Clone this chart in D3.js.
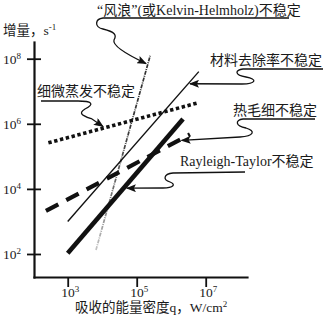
<!DOCTYPE html>
<html>
<head>
<meta charset="utf-8">
<script src="https://cdn.jsdelivr.net/npm/d3@7"></script>
<style>
  body { margin: 0; background: #fff; }
  svg { display: block; }
  text { font-family: "Liberation Serif", "Noto Sans CJK SC", serif; fill: #1a1a1a; }
</style>
</head>
<body>
<svg id="chart" width="323" height="320"></svg>
<script>
// Growth rate lines, each point is [absorbed energy density q (W/cm2), growth rate (s^-1)].
const kelvinHelmholz = [[6.6e3, 132], [2.45e5, 1.23e8]];
const materialRemoval = [[1e3, 1e3], [6.3e6, 4e7]];
const fineEvaporation = [[275, 2.6e5], [5.5e6, 4.3e6]];
const thermocapillary = [[234, 2.1e3], [3.5e6, 4.7e5]];
const rayleighTaylor = [[1e3, 105], [2.2e6, 1.4e6]];

// Axis ticks (shown as 10 with a superscript exponent).
const xTicks = [1e3, 1e5, 1e7];
const xTickExp = ['3', '5', '7'];
const yTicks = [1e2, 1e4, 1e6, 1e8];
const yTickExp = ['2', '4', '6', '8'];

// Where each annotation arrow points, in data units.
const arrowTargets = {
  kelvin: [1.86e5, 7.1e7],
  material: [3.5e6, 1.7e7],
  evaporation: [1.05e4, 8.3e5],
  thermo: [2.0e6, 3.1e5],
  rayleigh: [5.2e4, 1.05e4]
};

const svg = d3.select('#chart');

// Log scales, domains stretched so the axis lines run past the first and last ticks.
const x = d3.scaleLog().domain([10 ** 2.023, 10 ** 8.197]).range([34, 247]);
const y = d3.scaleLog().domain([10 ** 1.293, 10 ** 8.513]).range([277, 42]);

const defs = svg.append('defs');

defs.append('marker')
  .attr('id', 'arrow')
  .attr('markerUnits', 'userSpaceOnUse')
  .attr('markerWidth', 10)
  .attr('markerHeight', 8)
  .attr('refX', 9)
  .attr('refY', 4)
  .attr('orient', 'auto')
  .append('path')
  .attr('d', 'M0,0 L10,4 L0,8 L2,4 z')
  .attr('fill', '#111');

// The Kelvin-Helmholz line fades out towards its lower end.
const khGrad = defs.append('linearGradient')
  .attr('id', 'khGrad')
  .attr('gradientUnits', 'userSpaceOnUse')
  .attr('x1', 0).attr('y1', y(1e6))
  .attr('x2', 0).attr('y2', y(130));
khGrad.append('stop').attr('offset', 0).attr('stop-color', '#333');
khGrad.append('stop').attr('offset', 0.6).attr('stop-color', '#777');
khGrad.append('stop').attr('offset', 1).attr('stop-color', '#c4c4c4');

// Axes
const xAxis = d3.axisBottom(x)
  .tickValues(xTicks)
  .tickSize(10)
  .tickSizeOuter(0)
  .tickFormat('');

const yAxis = d3.axisLeft(y)
  .tickValues(yTicks)
  .tickSize(7)
  .tickSizeOuter(0)
  .tickFormat('');

const gx = svg.append('g').attr('transform', 'translate(0,277)').call(xAxis);
const gy = svg.append('g').attr('transform', 'translate(34,0)').call(yAxis);

gy.selectAll('.tick line').attr('x1', 7);
[gx, gy].forEach(g => {
  g.select('.domain').attr('stroke', '#111').attr('stroke-width', 2.2).attr('stroke-linecap', 'square');
  g.selectAll('.tick line').attr('stroke', '#111').attr('stroke-width', 1.8);
});

// Tick labels: 10 with superscript
xTicks.forEach((v, i) => {
  const t = svg.append('text')
    .attr('x', x(v) - 6.5)
    .attr('y', 297)
    .attr('font-size', 13.5);
  t.append('tspan').text('10');
  t.append('tspan').attr('dy', -5).attr('font-size', 9).text(xTickExp[i]);
});

yTicks.forEach((v, i) => {
  const t = svg.append('text')
    .attr('x', 3)
    .attr('y', y(v) + 5)
    .attr('font-size', 13.5);
  t.append('tspan').text('10');
  t.append('tspan').attr('dy', -5).attr('font-size', 9).text(yTickExp[i]);
});

// Axis titles
const yTitle = svg.append('text').attr('x', 3).attr('y', 35).attr('font-size', 13.5);
yTitle.append('tspan').text('增量，');
yTitle.append('tspan').text('s');
yTitle.append('tspan').attr('dy', -5).attr('font-size', 9).text('-1');

const xTitle = svg.append('text').attr('x', 75).attr('y', 312).attr('font-size', 13.5);
xTitle.append('tspan').text('吸收的能量密度q，W/cm');
xTitle.append('tspan').attr('dy', -5).attr('font-size', 9).text('2');

// Lines
const line = d3.line().x(d => x(d[0])).y(d => y(d[1]));

svg.append('path')
  .datum(kelvinHelmholz)
  .attr('d', line)
  .attr('fill', 'none')
  .attr('stroke', 'url(#khGrad)')
  .attr('stroke-width', 1.7)
  .attr('stroke-dasharray', '4,1,1,1');

svg.append('path')
  .datum(materialRemoval)
  .attr('d', line)
  .attr('fill', 'none')
  .attr('stroke', '#111')
  .attr('stroke-width', 1.4);

svg.append('path')
  .datum(fineEvaporation)
  .attr('d', line)
  .attr('fill', 'none')
  .attr('stroke', '#111')
  .attr('stroke-width', 3.6)
  .attr('stroke-dasharray', '3.4,2.6');

svg.append('path')
  .datum(thermocapillary)
  .attr('d', line)
  .attr('fill', 'none')
  .attr('stroke', '#111')
  .attr('stroke-width', 4.2)
  .attr('stroke-dasharray', '14,9');

svg.append('path')
  .datum(rayleighTaylor)
  .attr('d', line)
  .attr('fill', 'none')
  .attr('stroke', '#111')
  .attr('stroke-width', 4.6);

// Annotations: label, underline and a wavy leader ending in an arrow
function tip(key) {
  const d = arrowTargets[key];
  return [x(d[0]), y(d[1])];
}

const leaders = [
  (() => { const [tx, ty] = tip('kelvin');
    return `M289,18 L103,18 C95,19 94,27 103,29 C115,32 117,35 114,40 C112,46 128,55 ${tx},${ty}`; })(),
  (() => { const [tx, ty] = tip('material');
    return `M323,69 L243,69 C235,70 234,75 246,77 C258,79 256,84 242,84 L${tx},${ty}`; })(),
  (() => { const [tx, ty] = tip('thermo');
    return `M315,119 L243,119 C235,120 235,126 246,128 C256,131 254,136 240,137 L${tx},${ty}`; })(),
  (() => { const [tx, ty] = tip('evaporation');
    return `M41,101 L78,101 C92,101 95,104 85,109 C77,114 84,116 92,119 L${tx},${ty}`; })(),
  (() => { const [tx, ty] = tip('rayleigh');
    return `M245,172 L173,173 C163,174 163,180 170,182 C176,184 174,188 163,188 L${tx},${ty}`; })()
];

svg.selectAll('path.leader')
  .data(leaders)
  .join('path')
  .attr('class', 'leader')
  .attr('d', d => d)
  .attr('fill', 'none')
  .attr('stroke', '#111')
  .attr('stroke-width', 1.3)
  .attr('marker-end', 'url(#arrow)');

const labelData = [
  { text: '“风浪”(或Kelvin-Helmholz)不稳定', x: 97, y: 15 },
  { text: '材料去除率不稳定', x: 210, y: 65 },
  { text: '细微蒸发不稳定', x: 37, y: 96 },
  { text: '热毛细不稳定', x: 233, y: 115 },
  { text: 'Rayleigh-Taylor不稳定', x: 180, y: 166 }
];

svg.selectAll('text.label')
  .data(labelData)
  .join('text')
  .attr('class', 'label')
  .attr('x', d => d.x)
  .attr('y', d => d.y)
  .attr('font-size', 14)
  .text(d => d.text);
</script>
</body>
</html>
